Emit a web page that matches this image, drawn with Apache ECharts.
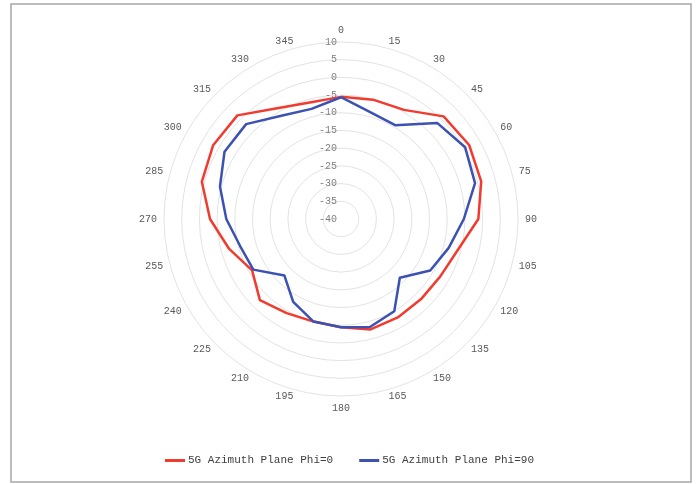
<!DOCTYPE html>
<html>
<head>
<meta charset="utf-8">
<script src="https://cdn.jsdelivr.net/npm/echarts@6/dist/echarts.min.js"></script>
<style>
html,body{margin:0;padding:0;background:#fff;}
#chart{width:699px;height:484px;}
</style>
</head>
<body>
<div id="chart"></div>
<script>
// Azimuth angles (degrees), clockwise from top
var angles = [0,15,30,45,60,75,90,105,120,135,150,165,180,195,210,225,240,255,270,285,300,315,330,345];
// Gain values (dB)
var phi0 = [-5.5,-5.1,-4.4,1.0,1.8,1.0,-1.2,-5.9,-7.6,-8.0,-7.9,-7.7,-9.4,-10.0,-9.3,-7.6,-11.0,-7.3,-3.0,0.7,1.7,1.4,-3.9,-5.9];
var phi90 = [-5.6,-8.7,-9.4,-1.6,0.5,-0.8,-5.3,-8.5,-10.9,-16.5,-9.9,-8.4,-9.4,-10.0,-13.0,-17.4,-11.4,-10.5,-7.6,-4.6,-2.0,-2.1,-6.3,-7.8];
var seriesNames = ['5G Azimuth Plane Phi=0','5G Azimuth Plane Phi=90'];
var radialMin = -40, radialMax = 10, radialSplits = 10;

// ECharts radar runs counter-clockwise; reorder so angles appear clockwise
var order = [0];
for (var i = angles.length - 1; i >= 1; i--) order.push(i);

var FONT = 'Liberation Mono';
var indicators = order.map(function (idx, k) {
  var ind = { name: String(angles[idx]), min: radialMin, max: radialMax };
  if (k === 0) {
    ind.axisLabel = { show: true };
  }
  return ind;
});

var chart = echarts.init(document.getElementById('chart'), null, { renderer: 'canvas' });
chart.setOption({
  backgroundColor: '#ffffff',
  animation: false,
  graphic: [{
    type: 'rect',
    shape: { x: 11, y: 4, width: 680, height: 478 },
    style: { fill: 'none', stroke: '#a6a6a6', lineWidth: 1.5 },
    silent: true
  }],
  legend: {
    data: seriesNames,
    left: 'center',
    top: 450,
    itemWidth: 20,
    itemHeight: 3,
    itemGap: 26,
    icon: 'rect',
    textStyle: { fontFamily: FONT, fontSize: 11, color: '#404040', padding: [0, 0, 0, -2] }
  },
  radar: {
    center: [341, 219],
    radius: 177,
    startAngle: 90,
    shape: 'circle',
    splitNumber: radialSplits,
    indicator: indicators,
    nameGap: 7,
    axisName: { color: '#595959', fontFamily: FONT, fontSize: 10 },
    axisLine: { show: false },
    axisTick: { show: false },
    axisLabel: {
      show: false,
      color: '#7f7f7f',
      fontFamily: FONT,
      fontSize: 10,
      margin: 4
    },
    splitLine: { lineStyle: { color: '#e3e3e3', width: 1 } },
    splitArea: { show: false }
  },
  series: [{
    type: 'radar',
    symbol: 'none',
    data: [
      {
        name: seriesNames[0],
        value: order.map(function (i) { return phi0[i]; }),
        lineStyle: { color: '#f23b2f', width: 2.5 },
        itemStyle: { color: '#f23b2f' }
      },
      {
        name: seriesNames[1],
        value: order.map(function (i) { return phi90[i]; }),
        lineStyle: { color: '#3c52b2', width: 2.5 },
        itemStyle: { color: '#3c52b2' }
      }
    ]
  }]
});
</script>
</body>
</html>
